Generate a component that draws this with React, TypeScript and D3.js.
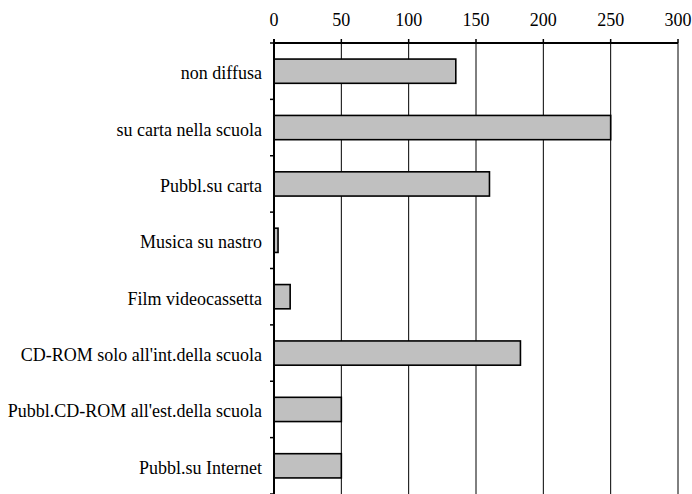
import React from "react";
import * as d3 from "d3";

const categories = [
  "non diffusa",
  "su carta nella scuola",
  "Pubbl.su carta",
  "Musica su nastro",
  "Film videocassetta",
  "CD-ROM solo all'int.della scuola",
  "Pubbl.CD-ROM all'est.della scuola",
  "Pubbl.su Internet",
];
const values = [135, 250, 160, 3, 12, 183, 50, 50];
const tickValues = [0, 50, 100, 150, 200, 250, 300];

const W = 692;
const H = 494;
const left = 274;
const right = 678;
const top = 43;
const bottom = 494;

export default function App() {
  const x = d3.scaleLinear().domain([0, 300]).range([left, right]);
  const y = d3
    .scaleBand<string>()
    .domain(categories)
    .range([top, bottom])
    .paddingInner(0.57)
    .paddingOuter(0.285);
  const step = y.step();
  const slotTop = (i: number) => top + i * step;
  const font = "Liberation Serif";

  return (
    <svg
      width={W}
      height={H}
      style={{ position: "absolute", left: 0, top: 0, background: "#fff", fontFamily: font }}
    >
      {/* gridlines */}
      {tickValues.slice(1).map((t) => (
        <line
          key={"g" + t}
          x1={x(t)}
          x2={x(t)}
          y1={top}
          y2={bottom}
          stroke="#000"
          strokeWidth={1}
        />
      ))}
      {/* bars */}
      {categories.map((c, i) => (
        <rect
          key={c}
          x={x(0)}
          y={y(c)}
          width={x(values[i]) - x(0)}
          height={y.bandwidth()}
          fill="#c0c0c0"
          stroke="#000"
          strokeWidth={1.6}
        />
      ))}
      {/* top axis */}
      <line x1={left} x2={right} y1={top} y2={top} stroke="#000" strokeWidth={2} />
      {tickValues.map((t) => (
        <g key={"t" + t}>
          <line x1={x(t)} x2={x(t)} y1={top - 4} y2={top} stroke="#000" strokeWidth={1.5} />
          <text
            x={x(t)}
            y={26}
            textAnchor="middle"
            style={{ fontFamily: font, fontSize: "18px" }}
            fill="#000"
          >
            {t}
          </text>
        </g>
      ))}
      {/* left axis */}
      <line x1={left} x2={left} y1={top - 4} y2={bottom} stroke="#000" strokeWidth={2} />
      {d3.range(0, categories.length + 1).map((k) => (
        <line
          key={"lt" + k}
          x1={left - 4}
          x2={left}
          y1={slotTop(k)}
          y2={slotTop(k)}
          stroke="#000"
          strokeWidth={1.5}
        />
      ))}
      {categories.map((c) => (
        <text
          key={"l" + c}
          x={262}
          y={(y(c) ?? 0) + y.bandwidth() / 2 + 8}
          textAnchor="end"
          style={{ fontFamily: font, fontSize: "18px" }}
          fill="#000"
        >
          {c}
        </text>
      ))}
    </svg>
  );
}
